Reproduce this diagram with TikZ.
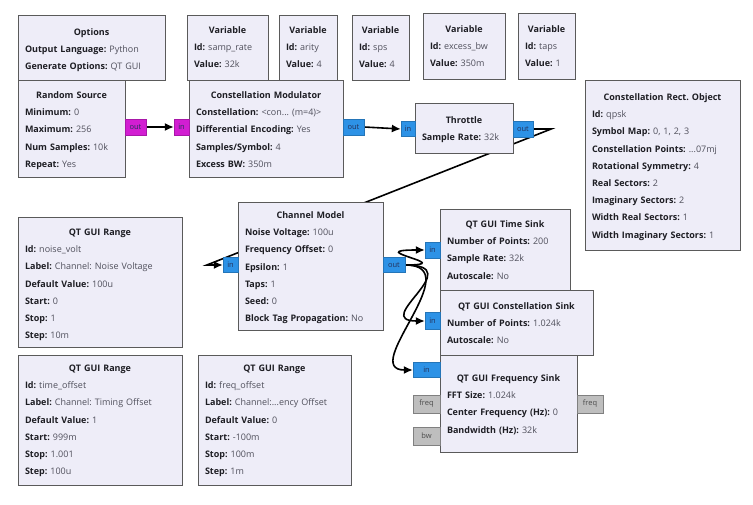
\documentclass[tikz,border=0pt]{standalone}
\usepackage{fontspec}
\setmainfont{Open Sans}
\usetikzlibrary{arrows.meta,backgrounds}
\definecolor{blkfill}{HTML}{EEEDF8}
\definecolor{blkdraw}{HTML}{5A5A5A}
\definecolor{keyc}{HTML}{1E1E24}
\definecolor{valc}{HTML}{50505C}
\definecolor{portblue}{HTML}{2D92E6}
\definecolor{portmag}{HTML}{D21ED2}
\definecolor{portgray}{HTML}{BEBEBE}
\definecolor{porttxt}{HTML}{24305A}
\frenchspacing
\newcommand\kv[2]{\mbox{\textbf{\color{keyc}#1:} {\color{valc}#2}}\par}
\newcommand\gblk[8]{%
  \node[blk, minimum width=#4pt, minimum height=#5pt] (#1) at (#2,#3) {};
  \pgfmathsetmacro\tw{#4-14}%
  \node[btxt, text width=\tw pt] (#1t) at (#2+#4/2,#6-3.7)
    {\makebox[\linewidth][c]{\rule{0pt}{7pt}\textbf{\color{keyc}#7}}\par #8};
}
\tikzset{
  blk/.style={draw=blkdraw, fill=blkfill, line width=1.3pt, anchor=north west, inner sep=0pt},
  btxt/.style={anchor=north, inner sep=0pt, align=left,
    font=\fontsize{9}{17.2}\selectfont\frenchspacing},
  port/.style={fill=portblue, draw=portblue!80!black, line width=0.3pt, inner sep=0pt,
    text=porttxt, font=\fontsize{7.5}{8}\selectfont},
  bport/.style={port, fill=portmag, draw=portmag!80!black},
  mport/.style={port, fill=portgray, draw=gray, text=black!70},
  conn/.style={draw=black, line width=1.6pt, -{Latex[length=9pt,width=8pt]}}
}
\begin{document}
\begin{tikzpicture}[x=1pt,y=-1pt]
\useasboundingbox (0,0) rectangle (753,505);
% blocks
\gblk{opt}{18}{15}{147}{65}{32}{Options}{\kv{Output Language}{Python}\kv{Generate Options}{QT GUI}}
\gblk{va}{187}{15}{81}{65}{30}{Variable}{\kv{Id}{samp\_rate}\kv{Value}{32k}}
\gblk{vb}{279}{15}{58}{65}{30}{Variable}{\kv{Id}{arity}\kv{Value}{4}}
\gblk{vc}{352}{15}{57}{65}{30}{Variable}{\kv{Id}{sps}\kv{Value}{4}}
\gblk{vd}{423}{13}{82}{66}{29}{Variable}{\kv{Id}{excess\_bw}\kv{Value}{350m}}
\gblk{ve}{518}{13}{57}{66}{29}{Variable}{\kv{Id}{taps}\kv{Value}{1}}
\gblk{rs}{18}{80}{107}{97}{95}{Random Source}{\kv{Minimum}{0}\kv{Maximum}{256}\kv{Num Samples}{10k}\kv{Repeat}{Yes}}
\gblk{cm}{189}{80}{154}{97}{95}{Constellation Modulator}{\kv{Constellation}{<con... (m=4)>}\kv{Differential Encoding}{Yes}\kv{Samples/Symbol}{4}\kv{Excess BW}{350m}}
\gblk{th}{415}{103}{98}{50}{120}{Throttle}{\kv{Sample Rate}{32k}}
\gblk{cro}{585}{80}{155}{170}{97}{Constellation Rect. Object}{\kv{Id}{qpsk}\kv{Symbol Map}{0, 1, 2, 3}\kv{Constellation Points}{...07mj}\kv{Rotational Symmetry}{4}\kv{Real Sectors}{2}\kv{Imaginary Sectors}{2}\kv{Width Real Sectors}{1}\kv{Width Imaginary Sectors}{1}}
\gblk{ch}{238}{202}{145}{128}{215}{Channel Model}{\kv{Noise Voltage}{100u}\kv{Frequency Offset}{0}\kv{Epsilon}{1}\kv{Taps}{1}\kv{Seed}{0}\kv{Block Tag Propagation}{No}}
\gblk{ra}{18}{217}{164}{130}{232}{QT GUI Range}{\kv{Id}{noise\_volt}\kv{Label}{Channel: Noise Voltage}\kv{Default Value}{100u}\kv{Start}{0}\kv{Stop}{1}\kv{Step}{10m}}
\gblk{rb}{18}{355}{164}{130}{368}{QT GUI Range}{\kv{Id}{time\_offset}\kv{Label}{Channel: Timing Offset}\kv{Default Value}{1}\kv{Start}{999m}\kv{Stop}{1.001}\kv{Step}{100u}}
\gblk{rc}{198}{355}{153}{130}{368}{QT GUI Range}{\kv{Id}{freq\_offset}\kv{Label}{Channel:...ency Offset}\kv{Default Value}{0}\kv{Start}{-100m}\kv{Stop}{100m}\kv{Step}{1m}}
\gblk{ts}{440}{209}{130}{81}{224}{QT GUI Time Sink}{\kv{Number of Points}{200}\kv{Sample Rate}{32k}\kv{Autoscale}{No}}
\gblk{cs}{440}{290}{153}{65}{306}{QT GUI Constellation Sink}{\kv{Number of Points}{1.024k}\kv{Autoscale}{No}}
\gblk{fs}{440}{355}{137}{97}{378}{QT GUI Frequency Sink}{\kv{FFT Size}{1.024k}\kv{Center Frequency (Hz)}{0}\kv{Bandwidth (Hz)}{32k}}
% ports
\node[bport, minimum width=21pt, minimum height=16pt] (rsout) at (135.5,127) {out};
\node[bport, minimum width=15pt, minimum height=16pt] (cmin) at (181.5,127) {in};
\node[port, minimum width=21pt, minimum height=16pt] (cmout) at (353.5,127) {out};
\node[port, minimum width=14pt, minimum height=15pt] (thin) at (408,129) {in};
\node[port, minimum width=20pt, minimum height=16pt] (thout) at (523,129) {out};
\node[port, minimum width=15pt, minimum height=15pt] (chin) at (230.5,265) {in};
\node[port, minimum width=22pt, minimum height=15pt] (chout) at (394,265) {out};
\node[port, minimum width=15pt, minimum height=16pt] (tsin) at (432.5,250) {in};
\node[port, minimum width=15pt, minimum height=17pt] (csin) at (432.5,321) {in};
\node[port, minimum width=27pt, minimum height=15pt] (fsin) at (426.5,370) {in};
\node[mport, minimum width=27pt, minimum height=18pt] (fqa) at (426.5,404) {freq};
\node[mport, minimum width=27pt, minimum height=18pt] (bwp) at (426.5,436) {bw};
\node[mport, minimum width=26pt, minimum height=18pt] (fqb) at (590,404) {freq};
% connections
\begin{pgfonlayer}{background}
\fill[white] (0,0) rectangle (753,505);
\draw[conn] (rsout.east) -- (cmin.west);
\draw[conn] (cmout.east) -- (thin.west);
\draw[conn] (thout.east) -- ++(18,0) -- ([xshift=-16pt]chin.west) -- (chin.west);
\draw[conn] (chout.east) .. controls +(55,0) and +(-65,0) .. (tsin.west);
\draw[conn] (chout.east) .. controls +(65,0) and +(-55,0) .. (csin.west);
\draw[conn] (chout.east) .. controls +(65,0) and +(-55,0) .. (fsin.west);
\end{pgfonlayer}
\end{tikzpicture}
\end{document}
